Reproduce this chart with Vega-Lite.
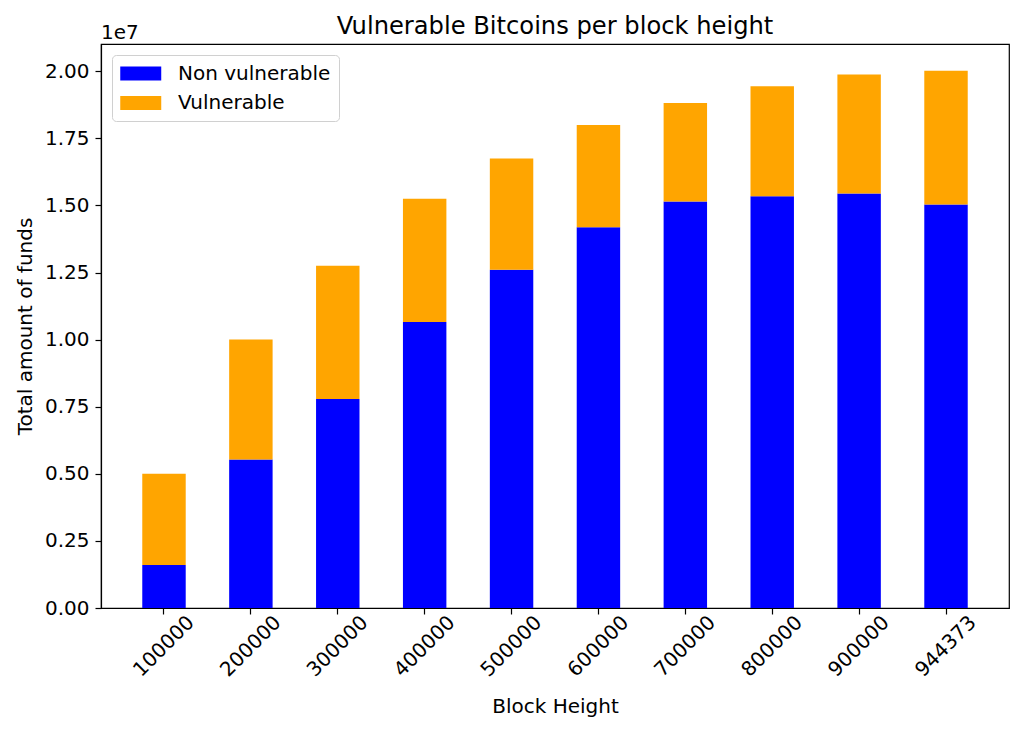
{
  "$schema": "https://vega.github.io/schema/vega-lite/v6.json",
  "autosize": {"type": "none"},
  "width": 908,
  "height": 564,
  "padding": {"left": 101, "top": 44, "right": 15, "bottom": 126},
  "background": "white",
  "config": {
    "font": "DejaVu Sans",
    "view": {"stroke": "black", "strokeWidth": 1.2},
    "axis": {
      "domainColor": "black", "domainWidth": 1.2, "tickColor": "black", "tickWidth": 1.2, "tickSize": 6,
      "labelColor": "black", "labelFont": "DejaVu Sans", "labelFontSize": 20,
      "titleColor": "black", "titleFont": "DejaVu Sans", "titleFontSize": 20, "titleFontWeight": "normal",
      "grid": false
    }
  },
  "title": {"text": "Vulnerable Bitcoins per block height", "font": "DejaVu Sans", "fontSize": 24.2, "fontWeight": "normal", "color": "black", "offset": 10, "dy": 26},
  "data": {"values": [
    {"block": "100000", "category": "Non vulnerable", "funds": 1600000},
    {"block": "100000", "category": "Vulnerable", "funds": 3400000},
    {"block": "200000", "category": "Non vulnerable", "funds": 5530000},
    {"block": "200000", "category": "Vulnerable", "funds": 4470000},
    {"block": "300000", "category": "Non vulnerable", "funds": 7790000},
    {"block": "300000", "category": "Vulnerable", "funds": 4960000},
    {"block": "400000", "category": "Non vulnerable", "funds": 10660000},
    {"block": "400000", "category": "Vulnerable", "funds": 4590000},
    {"block": "500000", "category": "Non vulnerable", "funds": 12600000},
    {"block": "500000", "category": "Vulnerable", "funds": 4150000},
    {"block": "600000", "category": "Non vulnerable", "funds": 14190000},
    {"block": "600000", "category": "Vulnerable", "funds": 3810000},
    {"block": "700000", "category": "Non vulnerable", "funds": 15150000},
    {"block": "700000", "category": "Vulnerable", "funds": 3662500},
    {"block": "800000", "category": "Non vulnerable", "funds": 15340000},
    {"block": "800000", "category": "Vulnerable", "funds": 4097500},
    {"block": "900000", "category": "Non vulnerable", "funds": 15440000},
    {"block": "900000", "category": "Vulnerable", "funds": 4435000},
    {"block": "944373", "category": "Non vulnerable", "funds": 15030000},
    {"block": "944373", "category": "Vulnerable", "funds": 4984000}
  ]},
  "layer": [
    {
      "mark": {"type": "bar"},
      "encoding": {
        "x": {
          "field": "block", "type": "ordinal", "sort": null,
          "scale": {"paddingInner": 0.5, "paddingOuter": 0.475},
          "axis": {"title": "Block Height", "labelAngle": -45, "labelAlign": "center", "labelBaseline": "middle", "labelPadding": 32, "titlePadding": 16}
        },
        "y": {
          "field": "funds", "type": "quantitative", "stack": "zero",
          "scale": {"domain": [0, 21014700], "nice": false, "zero": true},
          "axis": {"title": "Total amount of funds", "values": [0, 2500000, 5000000, 7500000, 10000000, 12500000, 15000000, 17500000, 20000000], "labelExpr": "format(datum.value / 10000000, '.2f')", "labelPadding": 6, "titlePadding": 9}
        },
        "color": {
          "field": "category", "type": "nominal",
          "scale": {"domain": ["Non vulnerable", "Vulnerable"], "range": ["#0000ff", "#ffa500"]},
          "legend": {
            "title": null, "orient": "top-left", "offset": 11,
            "symbolType": "M-1,-0.68L3,-0.68L3,0.68L-1,0.68Z", "symbolSize": 420, "symbolStrokeWidth": 0, "symbolOpacity": 1,
            "labelFont": "DejaVu Sans", "labelFontSize": 20, "labelColor": "black", "labelOffset": 37,
            "rowPadding": 8.5, "padding": 8, "cornerRadius": 4, "strokeColor": "#d0d0d0", "fillColor": "rgba(255,255,255,0.8)"
          }
        },
        "order": {"field": "category", "sort": "ascending"}
      }
    },
    {
      "data": {"values": [{"label": "1e7", "top": 21014700}]},
      "mark": {"type": "text", "align": "left", "baseline": "alphabetic", "dy": -5, "font": "DejaVu Sans", "fontSize": 20, "color": "black"},
      "encoding": {
        "x": {"value": 0},
        "y": {"field": "top", "type": "quantitative"},
        "text": {"field": "label"}
      }
    }
  ]
}
